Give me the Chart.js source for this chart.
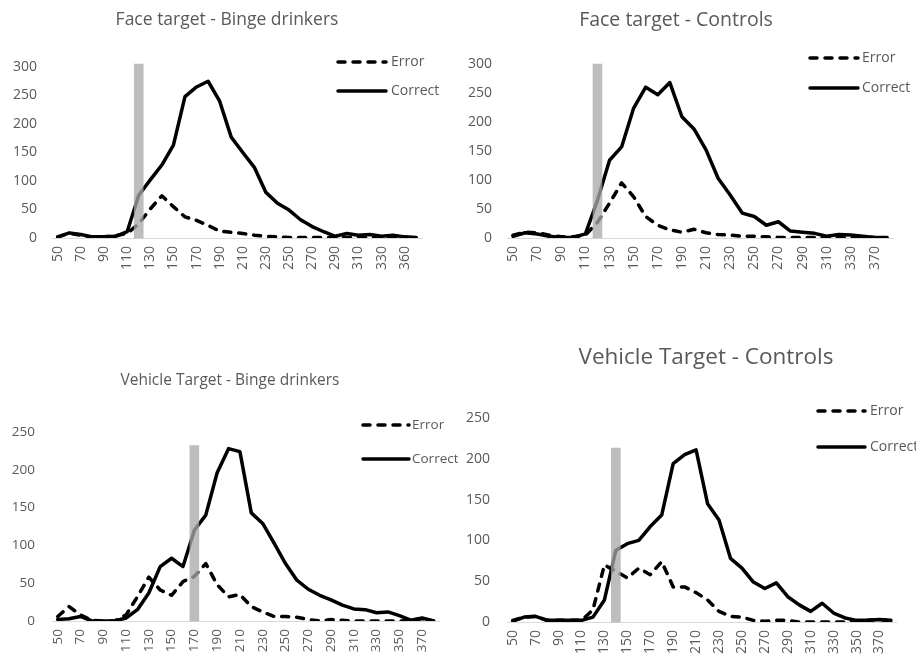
<!DOCTYPE html>
<html><head><meta charset="utf-8">
<script src="https://cdn.jsdelivr.net/npm/chart.js@4.4.1/dist/chart.umd.min.js"></script>
<style>
html,body{margin:0;padding:0;background:#fff;overflow:hidden;width:916px;height:659px;}
.panel{position:absolute;}
canvas{display:block;}
</style></head><body>
<div class="panel" style="left:0;top:0;width:458px;height:300px"><canvas id="c1" width="458" height="300"></canvas></div>
<div class="panel" style="left:458px;top:0;width:458px;height:300px"><canvas id="c2" width="458" height="300"></canvas></div>
<div class="panel" style="left:0;top:330px;width:458px;height:329px"><canvas id="c3" width="458" height="329"></canvas></div>
<div class="panel" style="left:458px;top:330px;width:458px;height:329px"><canvas id="c4" width="458" height="329"></canvas></div>
<script>
// ---- data ----
const faceBingeLabels = [50,60,70,80,90,100,110,120,130,140,150,160,170,180,190,200,210,220,230,240,250,260,270,280,290,300,310,320,330,350,360,370];
const faceBingeError   = [2,8,5,1,2,4,8,25,51,74,55,37,31,22,12,10,8,5,3,2,1,1,1,1,1,1,1,1,1,1,1,0];
const faceBingeCorrect = [2,9,6,2,2,3,11,75,102,128,163,248,265,275,240,177,150,124,80,61,49,32,20,11,3,8,5,6,3,5,2,1];
const faceBingeMarker = 120, faceBingeMarkerValue = 305;

const faceCtrlLabels = [50,60,70,80,90,100,110,120,130,140,150,160,170,180,190,200,210,220,230,240,250,260,270,280,290,300,310,320,330,350,370,380];
const faceCtrlError   = [5,10,9,5,2,2,5,27,60,95,71,37,22,14,10,15,9,6,5,3,3,2,1,1,1,1,1,1,1,1,1,0];
const faceCtrlCorrect = [3,9,7,3,1,1,7,65,134,157,224,260,247,268,209,188,152,103,74,43,37,22,28,12,10,8,3,6,5,3,1,1];
const faceCtrlMarker = 120, faceCtrlMarkerValue = 300;

const vehBingeLabels = [50,60,70,80,90,100,110,120,130,140,150,160,170,180,190,200,210,220,230,240,250,260,270,280,290,300,310,320,330,340,350,360,370,380];
const vehBingeError   = [6,19,8,1,0,0,8,32,58,41,34,52,59,76,48,32,35,19,12,6,6,5,2,0,2,1,0,0,0,0,0,1,3,0];
const vehBingeCorrect = [2,3,6,0,0,0,4,15,37,72,83,72,120,140,196,228,224,143,129,103,76,54,42,34,28,21,16,15,11,12,7,1,4,0];
const vehBingeMarker = 170, vehBingeMarkerValue = 232;

const vehCtrlLabels = [50,60,70,80,90,100,110,120,130,140,150,160,170,180,190,200,210,220,230,240,250,260,270,280,290,300,310,320,330,340,350,360,370,380];
const vehCtrlError   = [2,6,7,2,2,2,2,15,70,62,54,66,58,74,43,43,36,27,13,7,6,2,1,2,2,0,0,0,0,0,1,2,3,1];
const vehCtrlCorrect = [1,6,7,2,2,2,2,6,27,88,96,100,117,131,194,205,211,145,125,78,66,49,41,48,31,21,13,23,11,5,2,2,3,2];
const vehCtrlMarker = 140, vehCtrlMarkerValue = 213;

const titles = ['Face target - Binge drinkers','Face target - Controls','Vehicle Target - Binge drinkers','Vehicle Target - Controls'];
const seriesNames = ['Error','Correct'];

// ---- drawing ----
Chart.defaults.font.family = '"Open Sans", "Noto Sans", sans-serif';
Chart.defaults.color = '#595959';
const TITLE_LH = 1.2;

// moves the Chart.js title block so that its text is centred on (cx, cy)
const placeTitle = {
  id: 'placeTitle',
  afterLayout(chart, args, opts) {
    const t = chart.titleBlock;
    if (!t) return;
    const w = t.right - t.left;
    const lh = opts.size * TITLE_LH;
    t.left = opts.cx - w / 2; t.right = opts.cx + w / 2;
    t.top = opts.cy - lh / 2; t.bottom = t.top + lh;
  }
};

const inlineLegend = {
  id: 'inlineLegend',
  afterDatasetsDraw(chart, args, opts) {
    const ctx = chart.ctx;
    ctx.save();
    seriesNames.forEach((name, k) => {
      const ds = chart.data.datasets.find(d => d.label === name);
      const y = opts.y[k];
      ctx.beginPath();
      ctx.setLineDash(ds.borderDash || []);
      ctx.lineWidth = ds.borderWidth;
      ctx.lineCap = ds.borderCapStyle || 'butt';
      ctx.strokeStyle = ds.borderColor;
      ctx.moveTo(opts.x0, y); ctx.lineTo(opts.x1, y); ctx.stroke();
      ctx.setLineDash([]);
      ctx.fillStyle = '#595959';
      ctx.font = opts.fs + 'px "Open Sans"';
      ctx.textBaseline = 'middle';
      ctx.textAlign = 'left';
      ctx.fillText(name, opts.tx, y);
    });
    ctx.restore();
  }
};

function makeChart(id, title, labels, err, cor, markCat, markVal, yMax, g) {
  const barData = labels.map(c => c === markCat ? markVal : null);
  const lineBase = {type:'line', borderColor:'#000', borderWidth:3.5, pointRadius:0, tension:0, borderJoinStyle:'round'};
  new Chart(document.getElementById(id), {
    data: {
      labels: labels,
      datasets: [
        {type:'bar', label:'marker', data: barData, backgroundColor:'rgba(168,168,168,0.76)', barThickness:9, order:0, clip:false},
        Object.assign({}, lineBase, {label:'Error', data: err, borderDash:[7,8], borderCapStyle:'round', order:1}),
        Object.assign({}, lineBase, {label:'Correct', data: cor, borderCapStyle:'round', order:2})
      ]
    },
    options: {
      responsive:false, animation:false, devicePixelRatio:1,
      layout:{padding:{left:0, right:g.R, top:g.top - g.title.size * TITLE_LH, bottom:0}},
      plugins:{
        legend:{display:false}, tooltip:{enabled:false},
        title:{display:true, text:title, color:'#595959', font:{size:g.title.size, weight:'normal', lineHeight:TITLE_LH}, padding:{top:0, bottom:0}},
        placeTitle: g.title,
        inlineLegend: g.leg
      },
      scales:{
        x:{offset:true, grid:{display:false, drawTicks:false}, border:{display:true, color:'#d9d9d9', width:1},
           ticks:{autoSkip:false, maxRotation:90, minRotation:90, padding:8, font:{size:g.fs}, color:'#595959',
                  callback:(v,i) => i % 2 === 0 ? String(labels[i]) : ''},
           afterFit: s => { s.height = g.H; }},
        y:{min:0, max:yMax, grid:{display:false, drawTicks:false}, border:{display:false},
           ticks:{stepSize:50, padding:g.yp, font:{size:g.fs}, color:'#595959'},
           afterFit: s => { s.width = g.W; }}
      }
    },
    plugins:[placeTitle, inlineLegend]
  });
}

makeChart('c1', titles[0], faceBingeLabels, faceBingeError, faceBingeCorrect, faceBingeMarker, faceBingeMarkerValue, 300,
  {W:52, R:36, top:67, H:62, yp:15, fs:14, title:{cx:227, cy:20, size:17.5}, leg:{x0:338, x1:386, tx:391, y:[62,91], fs:14}});
makeChart('c2', titles[1], faceCtrlLabels, faceCtrlError, faceCtrlCorrect, faceCtrlMarker, faceCtrlMarkerValue, 300,
  {W:49, R:23, top:64, H:62, yp:15, fs:14, title:{cx:676-458, cy:20, size:19.5}, leg:{x0:352, x1:400, tx:404, y:[58,88], fs:14}});
makeChart('c3', titles[2], vehBingeLabels, vehBingeError, vehBingeCorrect, vehBingeMarker, vehBingeMarkerValue, 250,
  {W:52, R:18, top:102, H:38, yp:17, fs:13.5, title:{cx:230, cy:51, size:15.5}, leg:{x0:363, x1:409, tx:412, y:[95,129], fs:13.5}});
makeChart('c4', titles[3], vehCtrlLabels, vehCtrlError, vehCtrlCorrect, vehCtrlMarker, vehCtrlMarkerValue, 250,
  {W:49, R:19, top:88, H:37, yp:17, fs:14, title:{cx:706-458, cy:28, size:22.5}, leg:{x0:360, x1:407, tx:412, y:[81,117], fs:14}});
</script>
</body></html>
